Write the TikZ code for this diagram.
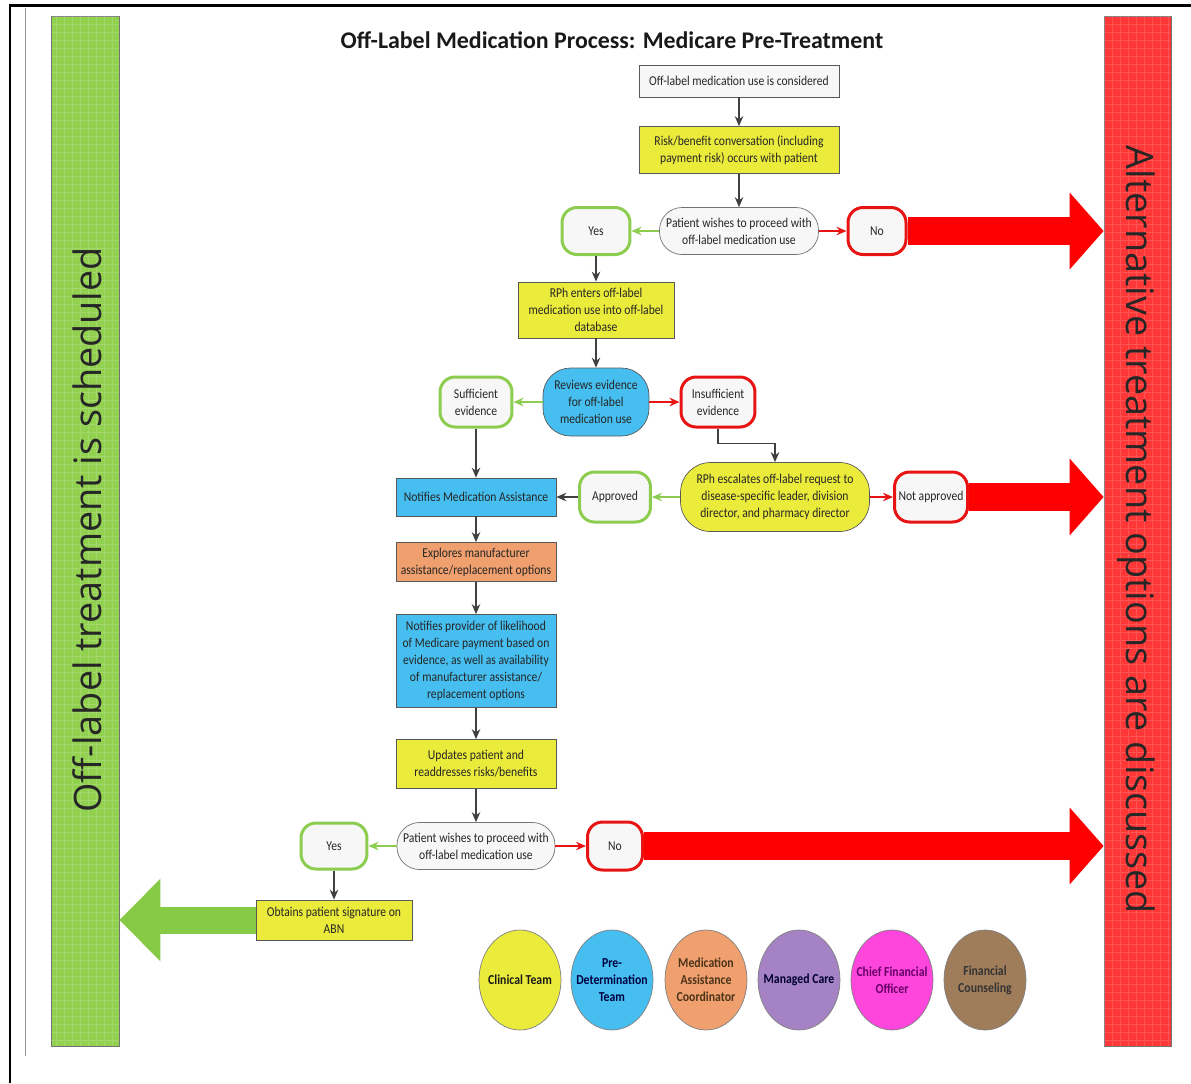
\documentclass[tikz,border=0pt]{standalone}
\usepackage{fontspec}
\setmainfont{Carlito}
\newfontfamily\barfont{Open Sans}
\newfontfamily\boxfont[FakeStretch=0.86]{Carlito}
\usetikzlibrary{arrows.meta,positioning,shapes.geometric}

\definecolor{bargreen}{RGB}{146,208,80}
\definecolor{barred}{RGB}{255,55,55}
\definecolor{arrowred}{RGB}{255,0,0}
\definecolor{arrowgreen}{RGB}{135,202,70}
\definecolor{boxyellow}{RGB}{235,235,60}
\definecolor{boxblue}{RGB}{70,190,240}
\definecolor{boxorange}{RGB}{240,160,110}
\definecolor{legpurple}{RGB}{165,130,195}
\definecolor{legmagenta}{RGB}{255,70,220}
\definecolor{legbrown}{RGB}{160,125,90}
\definecolor{yesline}{RGB}{140,205,80}
\definecolor{noline}{RGB}{232,20,20}
\definecolor{connline}{RGB}{64,64,64}

\begin{document}
\begin{tikzpicture}[x=0.02cm,y=-0.02cm,
    box/.style={draw=black!65,fill=#1,inner sep=1pt,align=center,text=black!85,
      font=\boxfont\fontsize{7.7}{9.6}\selectfont},
    box/.default=white,
    decision/.style={box=gray!6,draw=black!55,rounded corners=0.45cm,minimum height=0.94cm},
    yesbox/.style={box=gray!6,draw=yesline,line width=0.06cm,rounded corners=0.3cm,minimum height=0.94cm},
    nobox/.style={box=gray!6,draw=noline,line width=0.06cm,rounded corners=0.3cm,minimum height=0.94cm},
    bar/.style={draw=black!55,inner sep=0pt},
    bartext/.style={font=\barfont\fontsize{21.5}{23}\selectfont,text=black!85},
    conn/.style={draw=connline,line width=0.03cm,-{Stealth[length=0.2cm,width=0.17cm]}},
    greenconn/.style={conn,draw=yesline,line width=0.05cm},
    redconn/.style={conn,draw=noline,line width=0.05cm},
    bigred/.style={draw=arrowred,line width=0.56cm,-{Triangle[length=0.68cm,width=1.5cm]}},
    biggreen/.style={draw=arrowgreen,line width=0.54cm,-{Triangle[length=0.82cm,width=1.6cm]}},
    legend/.style={ellipse,draw=black!50,minimum width=1.64cm,minimum height=2cm,inner sep=0pt},
    legtext/.style={font=\boxfont\bfseries\fontsize{7.8}{9.6}\selectfont,align=center}]

  \useasboundingbox (0,0) rectangle (1191,1083);
  % frame
  \draw[line width=0.06cm] (10,1083) -- (10,5) -- (1191,5);
  \draw[black!40,line width=0.02cm] (25,8) -- (25,1056);

  % side bars
  \node[bar,fill=bargreen,minimum width=1.36cm,minimum height=20.6cm] (leftbar) at (85,531) {};
  \node[bar,fill=barred,minimum width=1.34cm,minimum height=20.6cm] (rightbar) at (1137.5,531) {};
  \draw[white,opacity=0.15,line width=0.2pt,step=0.16cm] (leftbar.south west) grid (leftbar.north east);
  \draw[white,opacity=0.15,line width=0.2pt,step=0.16cm] (rightbar.south west) grid (rightbar.north east);
  \node[bartext,rotate=90] (lefttext) at (87,530) {Off-label treatment is scheduled};
  \node[bartext,rotate=-90] (righttext) at (1136,530) {Alternative treatment options are discussed};

  \node[font=\bfseries\fontsize{13.6}{15}\selectfont,text=black!90] (title) at (612,40)
    {Off-Label Medication Process: Medicare Pre-Treatment};

  % first part
  \node[box=gray!6,minimum width=4cm,minimum height=0.64cm] (consider) at (739,81) {Off-label medication use is considered};
  \node[box=boxyellow,minimum width=4cm,minimum height=0.94cm] (riskconv) at (739,150) {Risk/benefit conversation (including\\payment risk) occurs with patient};
  \node[decision,minimum width=3.18cm] (wish1) at (739,231) {Patient wishes to proceed with\\off-label medication use};
  \node[yesbox,minimum width=1.36cm] (yes1) at (596,231) {Yes};
  \node[nobox,minimum width=1.16cm] (no1) at (877,231) {No};
  \node[box=boxyellow,minimum width=3.12cm,minimum height=1.12cm] (enter) at (596,310) {RPh enters off-label\\medication use into off-label\\database};
  \node[box=boxblue,rounded corners=0.55cm,minimum width=2.12cm,minimum height=1.36cm] (review) at (596,402) {Reviews evidence\\for off-label\\medication use};
  \node[yesbox,minimum width=1.44cm,minimum height=1cm] (suff) at (476,402) {Sufficient\\evidence};
  \node[nobox,minimum width=1.48cm,minimum height=1cm] (insuff) at (718,402) {Insufficient\\evidence};
  \node[box=boxyellow,rounded corners=0.6cm,minimum width=3.78cm,minimum height=1.38cm] (escal) at (775,497) {RPh escalates off-label request to\\disease-specific leader, division\\director, and pharmacy director};
  \node[yesbox,minimum width=1.42cm,minimum height=1cm] (approved) at (615,497) {Approved};
  \node[nobox,minimum width=1.46cm,minimum height=1cm] (notappr) at (931,497) {Not approved};

  % second part
  \node[box=boxblue,minimum width=3.2cm,minimum height=0.76cm] (notifyma) at (476,497) {Notifies Medication Assistance};
  \node[box=boxorange,minimum width=3.2cm,minimum height=0.78cm] (explore) at (476,562) {Explores manufacturer\\assistance/replacement options};
  \node[box=boxblue,minimum width=3.2cm,minimum height=1.86cm] (notifyprov) at (476,661) {Notifies provider of likelihood\\of Medicare payment based on\\evidence, as well as availability\\of manufacturer assistance/\\replacement options};
  \node[box=boxyellow,minimum width=3.2cm,minimum height=0.98cm] (update) at (476,764) {Updates patient and\\readdresses risks/benefits};
  \node[decision,minimum width=3.16cm] (wish2) at (476,846) {Patient wishes to proceed with\\off-label medication use};
  \node[yesbox,minimum width=1.32cm,minimum height=0.92cm] (yes2) at (334,846) {Yes};
  \node[nobox,minimum width=1.1cm,minimum height=0.96cm] (no2) at (615,846) {No};
  \node[box=boxyellow,minimum width=3.12cm,minimum height=0.8cm] (abn) at (334,920) {Obtains patient signature on\\ABN};

  % connectors
  \draw[conn] (consider) -- (riskconv);
  \draw[conn] (riskconv) -- (wish1);
  \draw[greenconn] (wish1) -- (yes1);
  \draw[redconn] (wish1) -- (no1);
  \draw[conn] (yes1.south) -- (yes1.south |- enter.north);
  \draw[conn] (enter) -- (review);
  \draw[greenconn] (review) -- (suff);
  \draw[redconn] (review) -- (insuff);
  \draw[conn] (insuff.south) -- ++(0,15) -| (escal.north);
  \draw[greenconn] (escal) -- (approved);
  \draw[redconn] (escal) -- (notappr);
  \draw[conn] (approved) -- (notifyma);
  \draw[conn] (suff) -- (notifyma);
  \draw[conn] (notifyma) -- (explore);
  \draw[conn] (explore) -- (notifyprov);
  \draw[conn] (notifyprov) -- (update);
  \draw[conn] (update) -- (wish2);
  \draw[greenconn] (wish2) -- (yes2);
  \draw[redconn] (wish2) -- (no2);
  \draw[conn] (yes2) -- (abn);

  % big arrows to the bars
  \draw[bigred] (no1.east) -- (no1.east -| rightbar.west);
  \draw[bigred] (notappr.east) -- (notappr.east -| rightbar.west);
  \draw[bigred] (no2.east) -- (no2.east -| rightbar.west);
  \draw[biggreen] (abn.west) -- (abn.west -| leftbar.east);

  % legend
  \node[legend,fill=boxyellow,label={[legtext,text=black!90]center:Clinical Team}] (clinical) at (520,980) {};
  \node[legend,fill=boxblue,label={[legtext,text=blue!25!black]center:Pre-\\Determination\\Team}] (predet) at (612,980) {};
  \node[legend,fill=boxorange,label={[legtext,text=brown!40!black]center:Medication\\Assistance\\Coordinator}] (medassist) at (706,980) {};
  \node[legend,fill=legpurple,label={[legtext,text=blue!20!black]center:Managed Care}] (managed) at (799,980) {};
  \node[legend,fill=legmagenta,label={[legtext,text=violet!80!black]center:Chief Financial\\Officer}] (cfo) at (892,980) {};
  \node[legend,fill=legbrown,label={[legtext,text=black!80]center:Financial\\Counseling}] (fincouns) at (985,980) {};
\end{tikzpicture}
\end{document}
